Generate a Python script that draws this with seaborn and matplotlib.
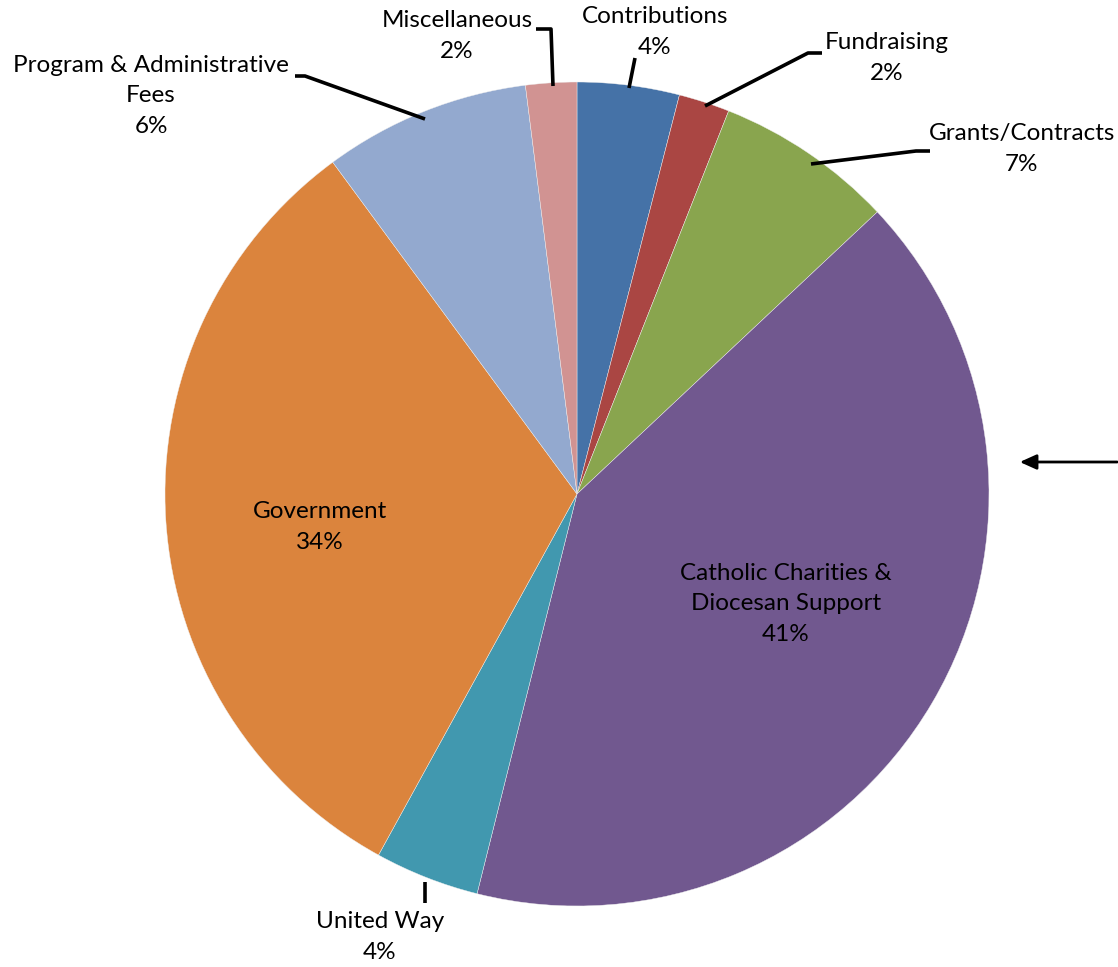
import matplotlib.pyplot as plt
import seaborn as sns

# Revenue sources (slice sizes, labels as printed)
categories = ["Contributions", "Fundraising", "Grants/Contracts",
              "Catholic Charities &\nDiocesan Support", "United Way",
              "Government", "Program & Administrative\nFees", "Miscellaneous"]
values = [4.0, 2.0, 7.0, 40.9, 4.1, 31.9, 8.1, 2.0]
pct_labels = ["4%", "2%", "7%", "41%", "4%", "34%", "6%", "2%"]
colors = ["#4572A7", "#AA4643", "#89A54E", "#71588F",
          "#4198AF", "#DB843D", "#93A9CF", "#D19392"]

sns.set_style("white")
plt.rcParams["font.family"] = ["Lato", "DejaVu Sans"]

W, H = 1118, 967
fig = plt.figure(figsize=(W / 100, H / 100), dpi=100)
ax = fig.add_axes([0, 0, 1, 1])

def py(y):
    return H - y

ax.pie(values, colors=colors, startangle=90, counterclock=False,
       center=(577, py(494)), radius=412, frame=True,
       wedgeprops=dict(linewidth=0.3, edgecolor="#f0f0f0"))
ax.set_xlim(0, W)
ax.set_ylim(0, H)
ax.axis("off")

# label text positions (pixel coords, centre of text block)
label_pos = [(655, 32), (887, 58), (1022, 149), (786, 604),
             (380, 937), (320, 527), (151, 96), (457, 36)]
fs = 17.5
for name, pct, (x, y) in zip(categories, pct_labels, label_pos):
    ax.text(x, py(y), name + "\n" + pct, ha="center", va="center",
            fontsize=fs, linespacing=1.55, color="black")

# leader lines
leaders = [
    [(629, 88), (635, 58)],
    [(705, 106), (808, 53), (822, 53)],
    [(811, 164), (916, 151), (930, 151)],
    [(425, 882), (425, 903)],
    [(425, 119), (305, 76), (295, 76)],
    [(553, 86), (551, 29), (536, 29)],
]
for pts in leaders:
    ax.plot([p[0] for p in pts], [py(p[1]) for p in pts],
            color="black", lw=2.6, solid_capstyle="butt")

# arrow at right
ax.annotate("", xy=(1017, py(462)), xytext=(1120, py(462)),
            arrowprops=dict(arrowstyle="-|>,head_length=1.0,head_width=0.45",
                            color="black", lw=2))

fig.savefig("out.png", dpi=100)
